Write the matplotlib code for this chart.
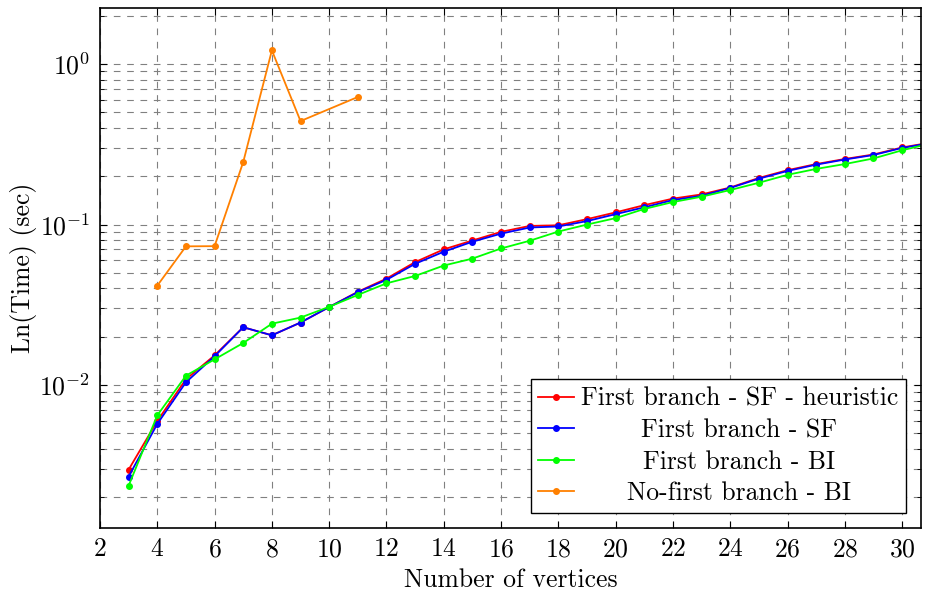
import numpy as np
import matplotlib
matplotlib.use("Agg")
import matplotlib.pyplot as plt
from matplotlib.ticker import LogLocator, NullFormatter, MultipleLocator
from matplotlib.transforms import Affine2D

# number of vertices
n_vertices = [3, 4, 5, 6, 7, 8, 9, 10, 11, 12, 13, 14, 15, 16, 17,
              18, 19, 20, 21, 22, 23, 24, 25, 26, 27, 28, 29, 30, 31]

# time (sec) per method
t_sf_heur = [0.00297, 0.00597, 0.01086, 0.0153, 0.0229, 0.0204, 0.0245, 0.0306,
             0.0381, 0.046, 0.0583, 0.0700, 0.0795, 0.090, 0.098, 0.0989, 0.108,
             0.119, 0.132, 0.145, 0.154, 0.170, 0.195, 0.218, 0.238, 0.256,
             0.273, 0.302, 0.324]
t_sf = [0.00269, 0.00572, 0.0104, 0.0151, 0.0229, 0.0204, 0.0245, 0.0306,
        0.0379, 0.0452, 0.0569, 0.0677, 0.0781, 0.0877, 0.0958, 0.0972, 0.105,
        0.116, 0.128, 0.142, 0.151, 0.169, 0.193, 0.2156, 0.236, 0.254,
        0.271, 0.300, 0.322]
t_bi = [0.00236, 0.00647, 0.01143, 0.01445, 0.01827, 0.0241, 0.0263, 0.0307,
        0.0364, 0.0430, 0.0478, 0.0555, 0.0613, 0.0709, 0.0792, 0.0904, 0.0999,
        0.1096, 0.125, 0.138, 0.149, 0.164, 0.182, 0.204, 0.222, 0.238,
        0.258, 0.290, 0.320]

n_vertices_nofirst = [4, 5, 6, 7, 8, 9, 11]
t_nofirst_bi = [0.0416, 0.0731, 0.0733, 0.245, 1.216, 0.441, 0.623]

labels = ["First branch - SF - heuristic", "First branch - SF",
          "First branch - BI", "No-first branch - BI"]

plt.rcParams['font.family'] = 'serif'
plt.rcParams['font.serif'] = ['cmr10', 'DejaVu Serif']
plt.rcParams['mathtext.fontset'] = 'cm'
plt.rcParams['axes.formatter.use_mathtext'] = True
plt.rcParams['font.size'] = 18.5

fig = plt.figure(figsize=(9.25, 5.94), dpi=100)
ax = fig.add_axes([100/925, 1-528/594, 821/925, 520/594])

style = dict(linewidth=1.3, marker='o', markersize=4)
ax.plot(n_vertices, t_sf_heur, color='red', label=labels[0], **style)
ax.plot(n_vertices, t_sf, color='blue', label=labels[1], **style)
ax.plot(n_vertices, t_bi, color=(0, 1, 0), label=labels[2], **style)
ax.plot(n_vertices_nofirst, t_nofirst_bi, color=(1, 0.5, 0), label=labels[3], **style)

ax.set_yscale('log')
ax.set_xlim(2, 30.66)
ax.set_ylim(10**-2.891, 10**0.349)
ax.xaxis.set_major_locator(MultipleLocator(2))
ax.yaxis.set_major_locator(LogLocator(base=10, numticks=10))
ax.yaxis.set_minor_locator(LogLocator(base=10, subs=np.arange(2, 10), numticks=20))
ax.yaxis.set_minor_formatter(NullFormatter())

# pgfplots look: dashed grid, ticks inside on every side
ax.grid(True, which='major', axis='x', color='gray', linestyle=(0, (6, 6)), linewidth=0.8)
ax.grid(True, which='both', axis='y', color='gray', linestyle=(0, (6, 6)), linewidth=0.8)
ax.set_axisbelow(True)
ax.tick_params(which='both', direction='in', top=True, right=True)
ax.tick_params(which='major', length=5, pad=7)
ax.tick_params(which='minor', length=3)
for sp in ax.spines.values():
    sp.set_linewidth(1.2)

ax.set_xlabel("Number of vertices", labelpad=5)
ax.set_ylabel("Ln(Time) (sec)", labelpad=2)

leg = ax.legend(loc='lower right', bbox_to_anchor=(805.7/821, 15.3/520),
                borderaxespad=0, fancybox=False, edgecolor='black',
                framealpha=1, handlelength=1.4, handletextpad=0.25,
                labelspacing=0.3, borderpad=0.3, fontsize=18.5)
leg.get_frame().set_linewidth(1.0)

# center the legend texts like pgfplots does
fig.canvas.draw()
r = fig.canvas.get_renderer()
widths = [t.get_window_extent(r).width for t in leg.get_texts()]
wmax = max(widths)
for t, w in zip(leg.get_texts(), widths):
    t.set_transform(t.get_transform() + Affine2D().translate((wmax - w) / 2, 0))

fig.savefig("out.png", dpi=100)
